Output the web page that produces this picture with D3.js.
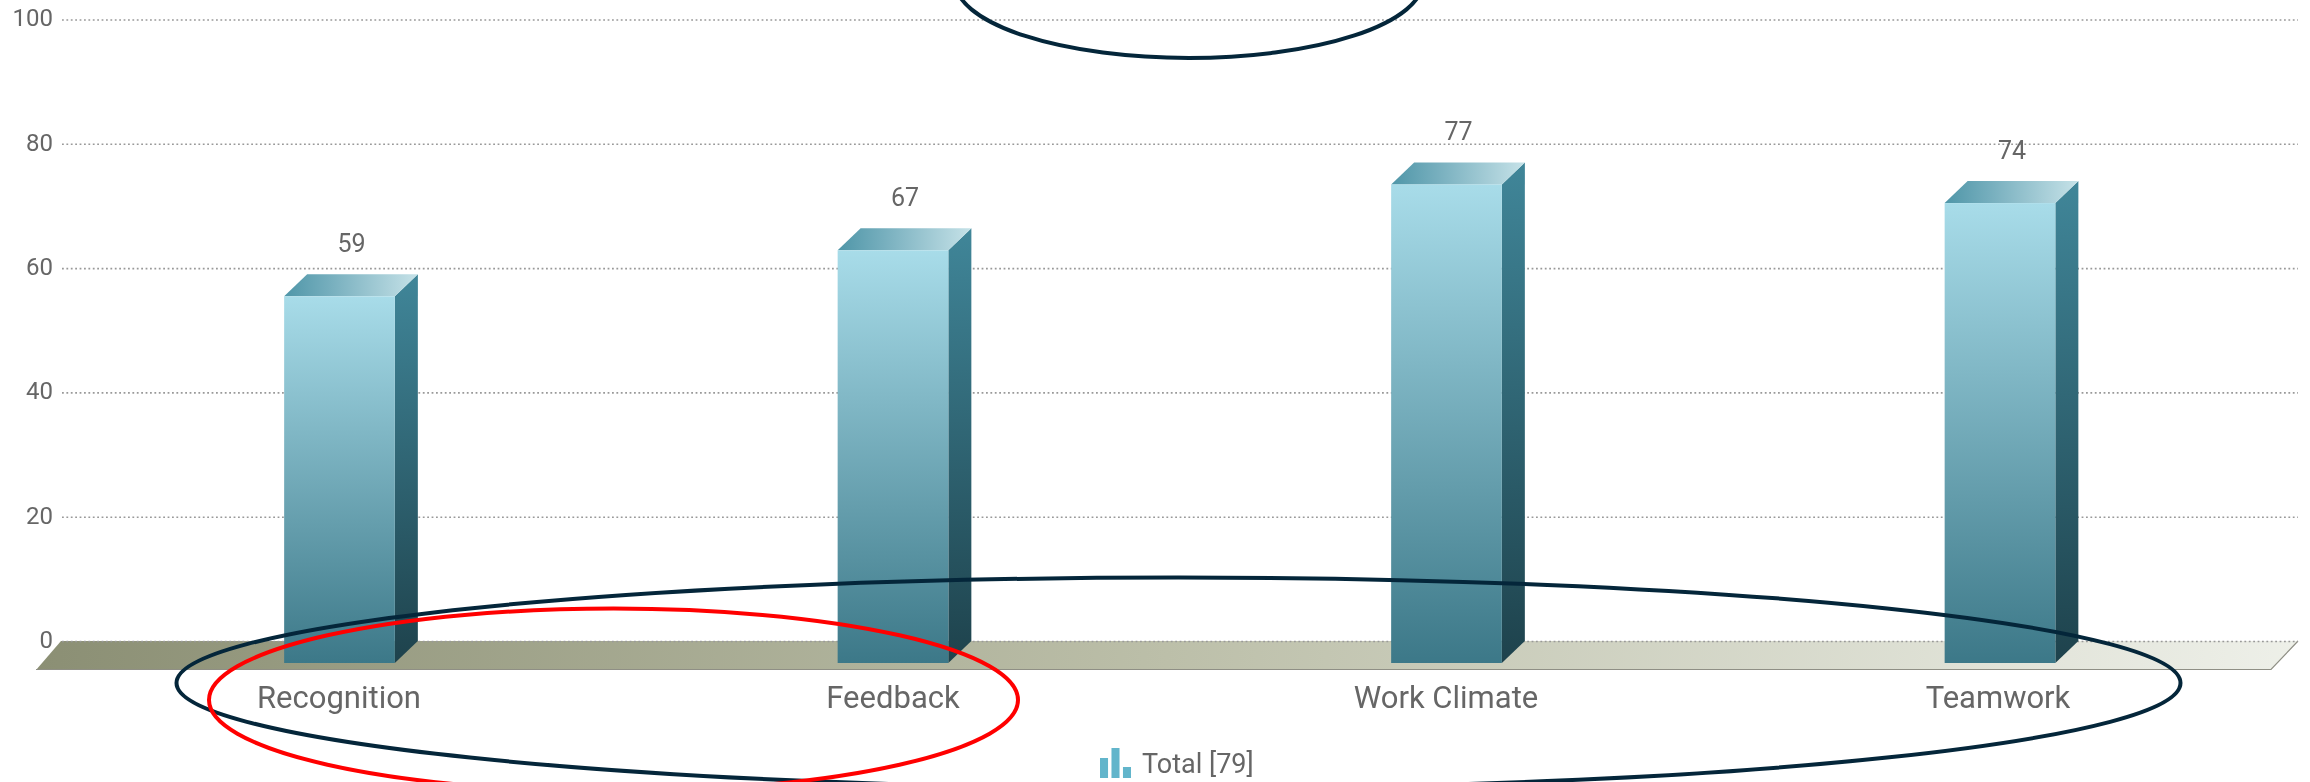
<!DOCTYPE html>
<html><head><meta charset="utf-8">
<script src="https://cdn.jsdelivr.net/npm/d3@7"></script>
<style>
html,body{margin:0;padding:0;background:#fff;overflow:hidden}
svg{display:block}
text{font-family:Roboto,sans-serif;fill:#666}
.soft{filter:blur(0.6px)}
</style></head><body>
<script>
const categories = ["Recognition","Feedback","Work Climate","Teamwork"];
const values = [59,66.4,77,74];
const valueLabels = ["59","67","77","74"];
const yTicks = [0,20,40,60,80,100];
const legendLabel = "Total [79]";
const legendIcon = [20,30,11];
const emphasis = [
  {cx:1189,cy:-19,rx:234,ry:77,color:"#04263a"},
  {cx:1178.5,cy:683,rx:1002,ry:105.5,color:"#04263a"},
  {cx:613.5,cy:700,rx:404.5,ry:91.5,color:"#ff0000"}
];

const W=2310,H=782, depth=22, depthX=23, floorLeft=36, floorRight=2271, floorDx=26, floorFront=670;
const svg=d3.select("body").append("svg").attr("width",W).attr("height",H);
const y=d3.scaleLinear().domain([0,100]).range([641,19.5]);
const x=d3.scaleBand().domain(categories).range([62.75,2276.75]).paddingInner(0.8).paddingOuter(0.4);
const frontBase=y(0)+depth;

const defs=svg.append("defs");
function grad(id,x2,y2,stops){
  const g=defs.append("linearGradient").attr("id",id).attr("x1",0).attr("y1",0).attr("x2",x2).attr("y2",y2);
  stops.forEach(([o,c])=>g.append("stop").attr("offset",o).attr("stop-color",c));
}
grad("front",0,1,[[0,"#a8dce9"],[1,"#3c7888"]]);
grad("side",0,1,[[0,"#408699"],[1,"#1e424c"]]);
grad("top",1,0,[[0,"#4f96a8"],[0.35,"#77afbe"],[1,"#c6e2e8"]]);
grad("floor",1,0,[[0,"#8b8f74"],[0.5,"#bcbfa9"],[1,"#eef0e9"]]);

// floor
svg.append("path")
  .attr("d",`M${floorLeft},${floorFront}L${floorLeft+floorDx-1},${y(0)}L${floorRight+27},${y(0)}L${floorRight},${floorFront}Z`)
  .attr("fill","url(#floor)");
svg.append("path").attr("d",`M${floorLeft},${floorFront-0.5}H${floorRight}L${floorRight+27},${y(0)}`)
  .attr("fill","none").attr("stroke","#8f8f85").attr("stroke-width",1.2);

// y axis grid + labels
const yAxis=d3.axisLeft(y).tickValues(yTicks).tickSize(-(2298-62)).tickPadding(8);
const ga=svg.append("g").attr("transform","translate(62,0)").call(yAxis);
ga.select(".domain").remove();
ga.selectAll("line").attr("stroke","#999").attr("stroke-width",1.6).attr("stroke-dasharray","1.8 2.6");
ga.selectAll("text").attr("class","soft").attr("font-size",24).attr("dy","0.27em").attr("x",-9).style("fill","#666");

// bars
const bars=svg.append("g").selectAll("g").data(categories).join("g");
bars.each(function(c,i){
  const g=d3.select(this), x0=x(c), x1=x0+x.bandwidth(), v=values[i], t=y(v)+depth;
  g.append("path").attr("d",`M${x1},${t}L${x1+depthX},${t-depth}V${frontBase-depth}L${x1},${frontBase}Z`).attr("fill","url(#side)");
  g.append("path").attr("d",`M${x0},${t}L${x0+depthX},${t-depth}H${x1+depthX}L${x1},${t}Z`).attr("fill","url(#top)");
  g.append("rect").attr("x",x0).attr("y",t).attr("width",x.bandwidth()).attr("height",frontBase-t).attr("fill","url(#front)");
  g.append("text").attr("class","soft").attr("x",(x0+x1)/2+12).attr("y",y(v)-22).attr("text-anchor","middle").attr("font-size",25).text(valueLabels[i]);
});

// category labels
const labelX=d3.scaleOrdinal().domain(categories).range([339,893,1446,1998]);
svg.append("g").selectAll("text").data(categories).join("text")
  .attr("class","soft").attr("x",c=>labelX(c)).attr("y",708).attr("text-anchor","middle")
  .attr("font-size",31).text(c=>c);

// legend
const lg=svg.append("g").attr("transform","translate(1100,778)");
const li=d3.scaleBand().domain(d3.range(legendIcon.length)).range([0,31]).paddingInner(0.3);
lg.selectAll("rect").data(legendIcon).join("rect")
  .attr("class","soft").attr("x",(d,i)=>li(i)).attr("y",d=>-d).attr("width",li.bandwidth()).attr("height",d=>d).attr("fill","#62b5cb");
svg.append("text").attr("class","soft").attr("x",1142).attr("y",773).attr("font-size",27).text(legendLabel);

// emphasis ellipses
svg.append("g").selectAll("ellipse").data(emphasis).join("ellipse")
  .attr("cx",d=>d.cx).attr("cy",d=>d.cy).attr("rx",d=>d.rx).attr("ry",d=>d.ry)
  .attr("fill","none").attr("stroke",d=>d.color).attr("stroke-width",4);
</script></body></html>
